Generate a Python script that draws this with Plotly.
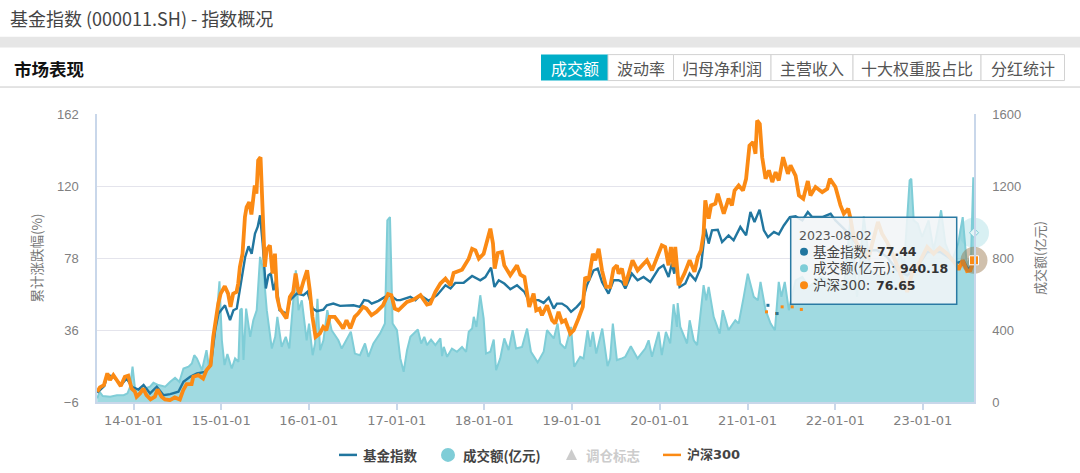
import pandas as pd
import plotly.graph_objects as go

# Years are written as decimal years after 2000
index_t = [13.586,13.666,13.704,13.772,13.856,13.924,13.981,14.057,14.114,14.19,14.266,14.342,14.418,14.513,14.57,14.646,14.722,14.817,14.882,14.931,14.969,15.007,15.045,15.102,15.14,15.178,15.216,15.273,15.311,15.349,15.387,15.417,15.444,15.474,15.509,15.539,15.566,15.596,15.626,15.664,15.748,15.786,15.862,15.938,15.984,16.044,16.09,16.166,16.204,16.28,16.356,16.508,16.584,16.63,16.679,16.717,16.793,16.869,16.926,17.002,17.042,17.156,17.213,17.27,17.365,17.46,17.555,17.612,17.669,17.764,17.859,17.954,18.011,18.076,18.114,18.163,18.228,18.296,18.372,18.456,18.505,18.619,18.676,18.733,18.79,18.828,18.885,18.942,18.988,19.056,19.124,19.17,19.246,19.292,19.341,19.417,19.474,19.531,19.569,19.607,19.683,19.748,19.816,19.892,19.987,20.044,20.101,20.139,20.166,20.185,20.226,20.293,20.342,20.407,20.472,20.502,20.521,20.559,20.597,20.662,20.711,20.787,20.844,20.92,20.985,21.034,21.08,21.137,21.186,21.232,21.3,21.357,21.414,21.482,21.547,21.623,21.688,21.737,21.851,21.946,22.003,22.098,22.174,22.288,22.478,22.592,22.706,22.82,22.934,23.048,23.2,23.39,23.466,23.512,23.55,23.583]
index_v = [-0.6,3.3,9.7,8.7,3.9,7.7,2.9,1.3,3.9,-1,2.9,-2,-1.4,0,5.8,8.7,10.7,11.6,15.5,35.9,45.6,48.1,50.4,41.7,47.5,48.5,61.1,78.6,84.8,80.5,92.2,96.1,102.9,86.4,60.2,67.9,68.9,59.2,65,47.5,45.6,53.4,57.2,56.3,58.2,48.5,47,47.9,50.4,51.4,50.1,50.4,49.5,53.4,53,51.4,53,55.3,56.3,53.4,53.4,55.3,53.4,56.3,53,56.3,62.1,60.2,63.5,63.6,67.5,65,66.9,72.4,61.1,65,63.1,59.8,62.1,58.2,53.4,53.4,51.8,54.9,48.5,51.4,51.4,49.5,46.6,49.5,53.4,62.1,70.8,71.8,64,57.2,65,65,64,60.2,68.9,65,66.9,64,71.8,73.7,66.9,74.7,68.9,74.7,61.1,63.1,68.9,65,72.8,86.4,95.1,86.4,94.1,94.5,87.3,91.2,88.3,96.1,91.2,104.8,99,106.2,94.1,90.2,93.2,91.8,97,101.9,102.3,99.9,104.8,101.9,101.9,103.8,99.9,95.1,91.2,82.5,82.5,78.6,70.8,67.9,72.8,81.5,81.5,75.1,76.3,71.8,72.8,77.44]

csi_t = [13.586,13.617,13.663,13.70,13.731,13.769,13.807,13.853,13.902,13.94,13.978,14.016,14.035,14.073,14.111,14.149,14.195,14.244,14.274,14.32,14.358,14.415,14.472,14.529,14.567,14.605,14.662,14.681,14.738,14.795,14.833,14.879,14.909,14.939,14.966,14.993,15.042,15.08,15.107,15.137,15.175,15.194,15.213,15.243,15.27,15.289,15.319,15.346,15.365,15.384,15.403,15.422,15.449,15.471,15.498,15.517,15.555,15.585,15.612,15.639,15.669,15.745,15.783,15.821,15.848,15.878,15.897,15.935,15.981,16.011,16.041,16.076,16.125,16.163,16.201,16.239,16.296,16.353,16.391,16.429,16.475,16.524,16.562,16.619,16.657,16.714,16.771,16.847,16.904,16.942,16.98,17.018,17.042,17.118,17.194,17.27,17.346,17.384,17.441,17.498,17.555,17.612,17.65,17.745,17.821,17.859,17.897,17.935,17.992,18.038,18.068,18.098,18.117,18.152,18.201,18.228,18.296,18.372,18.41,18.456,18.513,18.562,18.592,18.63,18.657,18.714,18.771,18.809,18.847,18.885,18.923,18.98,19.018,19.075,19.124,19.151,19.189,19.238,19.265,19.303,19.341,19.39,19.436,19.474,19.512,19.531,19.569,19.607,19.645,19.691,19.748,19.797,19.854,19.911,19.987,20.025,20.063,20.101,20.128,20.158,20.177,20.215,20.282,20.342,20.396,20.434,20.472,20.502,20.521,20.559,20.586,20.635,20.662,20.73,20.787,20.825,20.855,20.901,20.95,20.985,21.023,21.064,21.091,21.11,21.14,21.167,21.205,21.243,21.281,21.319,21.357,21.406,21.46,21.49,21.547,21.585,21.634,21.688,21.718,21.775,21.851,21.908,21.938,22.003,22.06,22.098,22.147,22.174,22.212,22.269,22.326,22.383,22.432,22.486,22.535,22.592,22.668,22.744,22.82,22.877,22.953,23.048,23.124,23.192,23.276,23.371,23.409,23.455,23.504,23.542,23.583]
csi_v = [0,2.5,3.9,10.7,6.8,9.7,6.8,3.3,8.7,9.3,1.9,0,-2.9,-1,1.9,-2,-4.5,-2.9,1.3,-2.9,-4.5,-4.9,-3.3,-4.5,0.9,4.4,4.4,8.7,9.7,7.7,12.6,15.5,32,43.7,51.4,57.2,61.5,57.2,49.5,57.2,58.2,63.1,72.8,80.5,101.9,107.7,110.6,103.4,111.6,120.3,115.5,134.9,136.8,105.8,72.8,82.5,85.4,68.9,80.5,55.3,48.5,42.7,55.3,58.2,68.9,59.2,57.2,64,70.8,59.2,43.7,32,34,37.8,35.9,43.7,43.7,39.8,36.9,41.7,36.9,43.7,45.6,49.5,48.5,44.6,46.6,50.4,56.9,56.3,48.5,47.5,48.5,52.4,53.8,56.3,50.8,51.4,58.2,63.1,66,62.1,69.3,71.2,77.6,83.4,82.5,77.6,80.5,89.3,95.1,86.4,71.8,80.9,81.5,73.7,67.9,73.7,68.3,66.9,49.5,57.2,47.5,48.5,44.6,50.4,41.7,39.8,46.6,40.7,41.7,33.9,35.9,42.7,49.5,66.9,65,80.5,76.7,83.4,70.8,61.1,61.1,71.8,73.7,68.9,71.8,62.1,69.9,76.7,70.8,73.7,76.7,70.8,80.5,85.4,84.4,73.7,84.4,72.8,84.4,62.1,68.9,76.7,69.9,78.6,82.5,92.2,111.6,100.9,108.7,109.7,115.5,103.8,112.6,108.7,117.4,120.3,117.4,124.2,143.6,145.6,138.8,158.2,156.2,136.8,124.2,129.1,122.3,128.1,123.2,136.8,127.1,132,126.1,114.5,112.6,122.9,114.5,119.4,116.4,118.4,124.2,119.4,108.7,103.8,106.7,100.9,90.2,84.4,81.5,78.6,88.3,99,92.2,87.3,78.6,68.9,58.2,68.9,74.7,84.4,80.5,84,80.5,74.7,71.2,76.7,70.4,70.8,76.65]

volume_t = [13.586,13.612,13.65,13.734,13.81,13.886,13.932,13.962,13.989,14.019,14.076,14.133,14.19,14.228,14.285,14.361,14.418,14.475,14.524,14.57,14.627,14.665,14.692,14.722,14.779,14.817,14.832,14.859,14.904,14.942,14.98,15.007,15.037,15.072,15.121,15.159,15.197,15.216,15.235,15.254,15.284,15.33,15.368,15.406,15.444,15.482,15.52,15.577,15.615,15.642,15.691,15.737,15.778,15.816,15.851,15.881,15.919,15.976,16.003,16.044,16.071,16.098,16.128,16.166,16.212,16.261,16.337,16.375,16.451,16.478,16.527,16.584,16.641,16.679,16.736,16.812,16.869,16.896,16.926,16.956,17.002,17.042,17.08,17.118,17.156,17.194,17.24,17.278,17.316,17.346,17.392,17.441,17.498,17.517,17.536,17.574,17.631,17.688,17.745,17.791,17.821,17.859,17.878,17.908,17.954,17.992,18.019,18.068,18.106,18.133,18.182,18.228,18.277,18.323,18.361,18.429,18.486,18.532,18.608,18.676,18.714,18.79,18.836,18.866,18.923,18.988,19.026,19.094,19.132,19.178,19.208,19.238,19.276,19.303,19.345,19.406,19.436,19.466,19.512,19.569,19.607,19.672,19.748,19.835,19.873,19.911,19.987,20.025,20.071,20.12,20.158,20.196,20.204,20.236,20.312,20.342,20.388,20.426,20.464,20.502,20.532,20.559,20.616,20.684,20.719,20.787,20.863,20.901,20.958,21.004,21.072,21.118,21.148,21.205,21.262,21.311,21.357,21.387,21.425,21.471,21.547,21.623,21.699,21.832,22.022,22.098,22.174,22.25,22.326,22.402,22.516,22.668,22.744,22.782,22.828,22.85,22.869,22.896,22.942,22.991,23.067,23.124,23.208,23.257,23.333,23.402,23.455,23.504,23.55,23.576,23.583]
volume_v = [20,57,33,29,38,38,48,85,196,66,75,75,85,107,94,85,112,134,112,186,196,214,260,242,177,242,288,196,288,436,671,343,205,266,186,242,223,510,519,233,519,362,454,510,806,732,510,297,362,473,306,362,297,528,732,510,565,343,436,260,325,574,288,343,510,399,343,297,362,390,269,260,325,251,325,381,436,1009,1027,436,399,242,168,288,362,380,403,325,362,316,347,316,353,255,306,251,297,279,306,279,390,408,473,417,593,464,269,279,347,177,242,353,288,399,297,306,408,279,220,279,399,353,436,325,297,417,196,251,242,399,306,390,269,325,408,199,242,436,233,242,251,310,242,297,343,251,390,260,390,325,543,417,550,417,325,454,343,316,473,649,565,639,473,380,510,399,454,436,584,713,584,565,667,510,436,399,667,584,667,510,676,695,639,695,658,639,1027,584,1031,732,695,732,824,750,1065,1231,1240,1009,991,917,1009,843,1065,880,787,880,1027,750,824,1249,940.18]

rebalance_orange_t = [21.216,21.33,21.395,21.509,21.612]
rebalance_orange_v = [46.6,45.6,49.5,49.5,48]
rebalance_blue_t = [21.232,21.338]
rebalance_blue_v = [50.4,45.6]

tick_left = [-6,36,78,120,162]
tick_right = [0,400,800,1200,1600]
tooltip_date = "2023-08-02"
tooltip_names = ["基金指数:", "成交额(亿元):", "沪深300:"]
tooltip_values = ["77.44", "940.18", "76.65"]
buttons = ["成交额", "波动率", "归母净利润", "主营收入", "十大权重股占比", "分红统计"]

BLUE = "#21769f"
TEAL = "#7fcdd7"
ORANGE = "#fb8a14"
CJK = "Noto Sans CJK SC"
MIXED = "DejaVu Sans, Noto Sans CJK SC"
L, R, T, B = 97, 974, 113.5, 402


def dates(ts):
    return [pd.Timestamp(year=2000 + int(t), month=1, day=1) + pd.Timedelta(days=round((t - int(t)) * 365.25)) for t in ts]


def X(px):
    return (px - L) / (R - L)


def Y(py):
    return 1 - (py - T) / (B - T)


fig = go.Figure()
fig.add_trace(go.Scatter(x=dates(volume_t), y=volume_v, name="成交额(亿元)", yaxis="y", mode="lines",
                         line=dict(color=TEAL, width=2), fill="tozeroy", fillcolor="rgba(127,205,215,0.74)"))
fig.add_trace(go.Scatter(x=dates(index_t), y=index_v, name="基金指数", yaxis="y2", mode="lines",
                         line=dict(color=BLUE, width=2.4)))
fig.add_trace(go.Scatter(x=dates(csi_t), y=csi_v, name="沪深300", yaxis="y2", mode="lines",
                         line=dict(color=ORANGE, width=3.8)))
fig.add_trace(go.Scatter(x=dates(rebalance_orange_t), y=rebalance_orange_v, yaxis="y2", mode="markers",
                         marker=dict(color=ORANGE, size=3, symbol="square"), name="调仓标志"))
fig.add_trace(go.Scatter(x=dates(rebalance_blue_t), y=rebalance_blue_v, yaxis="y2", mode="markers",
                         marker=dict(color=BLUE, size=3, symbol="square"), name="调仓标志"))
# Highlighted end points
fig.add_trace(go.Scatter(x=dates(volume_t[-1:]), y=volume_v[-1:], yaxis="y", mode="markers", cliponaxis=False,
                         marker=dict(color="rgba(127,205,215,0.3)", size=30, line=dict(width=0))))
fig.add_trace(go.Scatter(x=dates(volume_t[-1:]), y=volume_v[-1:], yaxis="y", mode="markers", cliponaxis=False,
                         marker=dict(color="#e4f5f7", size=7, symbol="diamond", line=dict(color=TEAL, width=1))))
fig.add_trace(go.Scatter(x=dates(csi_t[-1:]), y=csi_v[-1:], yaxis="y2", mode="markers", cliponaxis=False,
                         marker=dict(color="rgba(150,115,70,0.45)", size=27, line=dict(width=0))))
fig.add_trace(go.Scatter(x=dates(csi_t[-1:]), y=csi_v[-1:], yaxis="y2", mode="markers", cliponaxis=False,
                         marker=dict(color=ORANGE, size=9, symbol="square", line=dict(color="white", width=1))))

shapes = []
annotations = []


def rect(x0, y0, x1, y1, fill, line=None, lw=1):
    shapes.append(dict(type="rect", xref="paper", yref="paper", x0=X(x0), x1=X(x1), y0=Y(y0), y1=Y(y1),
                       fillcolor=fill, line=dict(color=line or "rgba(0,0,0,0)", width=lw if line else 0)))


def label(px, py, text, size, color, anchor="left", family=CJK):
    annotations.append(dict(xref="paper", yref="paper", x=X(px), y=Y(py), text=text, showarrow=False,
                            xanchor=anchor, yanchor="middle", font=dict(size=size, color=color, family=family),
                            borderpad=0, borderwidth=0))


def hline(x0, x1, py, color, w):
    shapes.append(dict(type="line", xref="paper", yref="paper", x0=X(x0), x1=X(x1), y0=Y(py), y1=Y(py),
                       line=dict(color=color, width=w)))


def circle(px, py, r, color):
    shapes.append(dict(type="circle", xref="paper", yref="paper", x0=X(px - r), x1=X(px + r), y0=Y(py + r), y1=Y(py - r),
                       fillcolor=color, line=dict(width=0)))


# Page header
label(10, 17, "基金指数 (000011.SH) - 指数概况", 18, "#444444")
rect(0, 36, 1080, 47, "#e6e6e6")
label(14, 68, "<b>市场表现</b>", 17.5, "#111111")
hline(0, 1080, 86.5, "#c8c8c8", 1)
button_edges = [541, 608, 673.5, 771, 853, 981, 1064.5]
for i, name in enumerate(buttons):
    active = i == 0
    rect(button_edges[i], 54, button_edges[i + 1], 80, "#00aec8" if active else "#ffffff", None if active else "#d2d2d2", 1)
    label((button_edges[i] + button_edges[i + 1]) / 2, 67, name, 16, "#ffffff" if active else "#555555", "center")

# Legend row
hline(339, 357, 455, BLUE, 2.5)
label(363, 455, "<b>基金指数</b>", 13.5, "#444444")
circle(448, 455, 7, TEAL)
label(463, 455, "<b>成交额(亿元)</b>", 13.5, "#444444")
shapes.append(dict(type="path", xref="paper", yref="paper",
                   path=f"M {X(566)} {Y(460)} L {X(577)} {Y(460)} L {X(571.5)} {Y(449)} Z",
                   fillcolor="#cccccc", line=dict(width=0)))
label(586, 455, "<b>调仓标志</b>", 13.5, "#cccccc")
hline(663, 681, 455, ORANGE, 2.5)
label(687, 455, "<b>沪深300</b>", 13, "#444444", family=MIXED)

# Tooltip
rect(790.7, 217, 956.7, 304, "rgba(241,245,247,0.88)", "#2a7aa3", 1.5)
label(799, 235, tooltip_date, 12.5, "#555555", family="DejaVu Sans")
row_y = [251.5, 268, 285]
value_x = [877, 900, 876]
row_colors = [BLUE, TEAL, ORANGE]
for name, val, y_, vx, c in zip(tooltip_names, tooltip_values, row_y, value_x, row_colors):
    circle(804, y_, 4, c)
    label(813, y_, name, 13.5, "#444444", family=MIXED)
    label(vx, y_, f"<b>{val}</b>", 12.5, "#333333", family="DejaVu Sans")

fig.update_layout(
    width=1080, height=473, showlegend=False, hovermode=False,
    margin=dict(l=L, r=1080 - R, t=T, b=473 - B, autoexpand=False),
    paper_bgcolor="white", plot_bgcolor="white",
    font=dict(family=CJK, color="#777777"),
    shapes=shapes, annotations=annotations,
    xaxis=dict(type="date", range=["2013-08-02", "2023-08-02"], tick0="2014-01-01", dtick="M12",
               tickformat="%y-%m-%d", showgrid=False, showline=True, linecolor="#c9d7ea", linewidth=1.5,
               ticks="outside", ticklen=6, tickcolor="#c9d7ea", tickwidth=1.5,
               tickfont=dict(family="DejaVu Sans", size=13, color="#808080"), zeroline=False),
    yaxis=dict(side="right", range=[0, 1600], tickvals=tick_right, showgrid=True, gridcolor="#e4e4ec", gridwidth=1,
               showline=True, linecolor="#c9d7ea", linewidth=1.5, zeroline=False,
               ticks="outside", ticklen=14, tickcolor="rgba(0,0,0,0)",
               tickfont=dict(family="Liberation Sans", size=13, color="#808080"),
               title=dict(text="成交额(亿元)", standoff=16, font=dict(size=13, color="#777777"))),
    yaxis2=dict(side="left", overlaying="y", range=[-6, 162], tickvals=tick_left, showgrid=False,
                showline=True, linecolor="#c9d7ea", linewidth=1.5, zeroline=False,
                ticks="outside", ticklen=14, tickcolor="rgba(0,0,0,0)",
                tickfont=dict(family="Liberation Sans", size=13, color="#808080"),
                title=dict(text="累计涨跌幅(%)", standoff=11, font=dict(size=13.5, color="#777777"))),
)

fig.write_html("out.html", post_script="document.body.style.margin='0';", config={"displayModeBar": False})
